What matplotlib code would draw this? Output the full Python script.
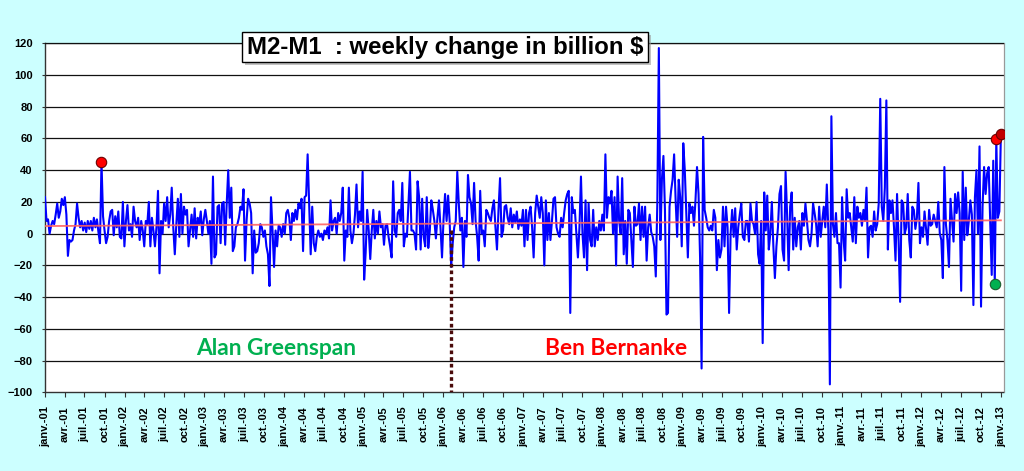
import numpy as np
import pandas as pd
import matplotlib
matplotlib.use("Agg")
import matplotlib.pyplot as plt
import matplotlib.dates as mdates
from matplotlib.patches import Rectangle

# ---- data: weekly change of M2-M1 (billion $), one list per year (Mondays) ----
w2001 = [23, 8, 9, 0, 5, 8, 6, 12, 19, 10, 14, 22, 18, 23, 12, -14, -4, -5, -4, 2,
         6, 19, 10, 4, 8, 2, 7, 1, 8, 3, 8, 2, 10, 4, 9, 1, -6, 45, 11, 2,
         -6, -2, 8, 14, 15, -1, 11, 4, 14, -2, -3, 20, -8]
w2002 = [8, 18, 2, 6, -2, 17, 8, 4, 10, -4, 8, 2, -8, 8, 6, 20, -8, 10, 2, -8,
         4, 27, -25, 8, 0, 19, 8, 23, 4, 12, 29, 4, -13, 6, 22, -2, 25, 0, 17, 12,
         15, -8, 2, 12, -2, 16, -3, 10, 6, 14, -1, 9]
w2003 = [15, 8, 0, 8, -19, 36, -15, -13, 17, 18, -6, 19, 20, -7, 19, 40, 10, 29, -11, -8,
         4, 6, 10, 17, 15, 28, -17, 8, 22, 19, 13, -25, 2, -12, -11, -6, 6, 4, -2, 2,
         -8, -13, -33, 23, 2, -21, 2, -8, 5, 4, -2, 6]
w2004 = [0, 13, 15, 10, -4, 13, 8, 15, 9, 19, 16, 22, -11, 23, 24, 50, 19, -13, 17, -6,
         -11, -2, 2, -2, 0, -4, 2, 0, 4, -3, 21, 2, 8, 10, 0, 13, 8, 13, 29, -17,
         2, -2, 29, 2, -6, 0, 12, 31, 4, 14, 8, 39]
w2005 = [-29, -12, 15, 2, -16, 2, 15, -3, 8, 0, 14, 4, 6, -7, 5, 6, -2, -8, -15, 33,
         2, -2, 13, 15, 8, 32, -8, 0, -2, 19, 39, 2, 2, 0, -10, 33, 23, -10, 22, -2,
         -8, 23, -9, 2, 21, 15, 8, -3, 10, 21, 4, -15]
w2006 = [9, 25, 8, 24, 8, -21, -6, 4, 8, 39, 19, 2, 10, -21, 8, -2, 37, 23, 19, 6,
         32, 8, -2, -17, 27, 0, 2, -8, 15, 13, 10, 8, 16, 21, 4, -10, 15, 35, -2, 2,
         17, 18, 10, 6, 16, 4, 12, 7, 14, 3, 9, 5]
w2007 = [15, -8, 15, -4, 13, 17, 4, -15, 13, 24, 17, 10, 23, 13, -20, 21, -4, 13, -4, 8,
         22, 23, 4, 0, -2, 10, 4, 13, 21, 25, 27, -50, 23, 13, 15, 0, -15, 4, 36, 0,
         -15, 21, -23, 19, -4, -8, 15, -8, 4, -4, 8, 2, 12]
w2008 = [2, 50, 10, 23, 19, 27, 0, 23, -20, 36, 8, 0, 35, -13, 8, -19, 15, 13, -4, -21,
         17, 5, 6, 19, -4, 17, -2, 17, -17, 4, 12, 1, -2, -8, -27, 19, 117, -4, 34, 49,
         15, -51, -50, 17, 27, 34, 50, 21, -2, 34, 23, -8]
w2009 = [57, 40, 12, -15, 19, 13, 17, 5, 21, 42, 25, -15, -85, 61, 15, 10, 4, 2, 5, 2,
         15, 10, -23, -4, -15, -10, 17, -8, 17, 4, -50, 0, 15, -2, 16, -10, 4, 12, 19, -2,
         -4, 8, 8, -5, 19, 8, 6, 0, 20, -13, -19, 8]
w2010 = [-69, 26, 2, 24, -10, 0, 20, -8, -28, -8, 4, 25, 30, -10, -17, 39, 12, -23, 17, 26,
         -10, 10, -8, 4, 8, -10, 13, 5, 19, 8, -4, -8, 0, 19, 13, 6, -8, 17, -2, 8,
         17, 4, 31, 2, -95, 74, 6, -2, 13, -6, -6, -34]
w2011 = [23, -4, -17, 28, 10, 13, 4, -5, 23, -6, 17, 10, 13, 5, 15, 8, 29, -15, 4, 5,
         -2, 14, 2, 6, 19, 85, 17, 8, 29, 84, -10, 21, 13, 21, 4, -17, 25, -4, -43, 21,
         19, 0, 4, 25, -4, -15, 17, 15, 3, 10, 32, -6]
w2012 = [4, -2, 14, 3, -7, 15, 5, 6, 12, 8, 4, 20, 0, -4, -28, 42, 6, -4, -21, 22,
         8, -5, 25, 13, 26, 13, -36, 39, -4, 29, -1, 8, 21, 12, -45, 23, 40, 0, 55, -46,
         17, 42, 25, 38, 42, 8, -26, 46, -32, 59.5, 10, 14, 62.8]

trend_values = [4.8, 8.4]          # linear trend, first and last week
hl_dates = ["2001-09-17", "2012-12-03", "2012-12-10", "2012-12-31"]
hl_colors = ["#FF0000", "#00B050", "#FF0000", "#C00000"]
handover_date = "2006-02-06"
handover_top = 2
labels = ["Alan Greenspan", "Ben Bernanke"]
title = "M2-M1  : weekly change in billion $"
month_fr = {1: "janv.", 4: "avr.", 7: "juil.", 10: "oct."}

values = np.array(w2001 + w2002 + w2003 + w2004 + w2005 + w2006 +
                  w2007 + w2008 + w2009 + w2010 + w2011 + w2012, dtype=float)
dates = pd.date_range("2001-01-01", periods=len(values), freq="7D")
series = pd.Series(values, index=dates)

# ---- figure ----
W, H = 1024, 471
fig = plt.figure(figsize=(W / 100, H / 100), dpi=100, facecolor="#CCFFFF")
ax = fig.add_axes([45 / W, 1 - 392.3 / H, 958.5 / W, 349 / H])
ax.set_facecolor("white")

ax.set_ylim(-100, 120)
ax.set_yticks(np.arange(-100, 121, 20))
ax.set_xlim(pd.Timestamp("2001-01-01"), pd.Timestamp("2013-01-12"))

for v in np.arange(-80, 121, 20):
    ax.axhline(v, color="#111111", lw=0.9, zorder=1)

ax.plot(series.index, series.values, color="#0000FF", lw=1.5, zorder=3)
ax.plot([dates[0], dates[-1]], trend_values, color="#FF6060", lw=1.3, alpha=0.9, zorder=4)

for d, c in zip(hl_dates, hl_colors):
    t = pd.Timestamp(d)
    edge = "#1a5c2e" if c == "#00B050" else "#6b0000"
    ax.plot([t], [series[t]], marker="o", ms=7.5, color=c, mec=edge, mew=0.8, zorder=5)

hd = pd.Timestamp(handover_date)
ax.plot([hd, hd], [handover_top, -100], color="#4a0a0a", lw=2.4,
        linestyle=(0, (1.1, 0.9)), dash_capstyle="butt", zorder=4)

ax.text(0.241, 0.107, labels[0], transform=ax.transAxes, ha="center", va="baseline",
        fontsize=16.4, fontweight="bold", color="#00B050", family="Lato", zorder=6)
ax.text(0.5957, 0.107, labels[1], transform=ax.transAxes, ha="center", va="baseline",
        fontsize=16.4, fontweight="bold", color="#FF0000", family="Lato", zorder=6)

# x ticks every quarter with French month abbreviations
ticks = pd.date_range("2001-01-01", "2013-01-01", freq="QS")
ax.set_xticks(ticks)
ax.set_xticklabels([f"{month_fr[t.month]}-{t.year % 100:02d}" for t in ticks],
                   rotation=90, fontsize=8, fontweight="bold", family="Liberation Sans")
ax.tick_params(axis="x", direction="out", length=3.5, width=0.8, pad=6.5, color="#333333")
ax.tick_params(axis="y", direction="out", length=2.5, width=0.8, pad=6.3, color="#333333")
for lab in ax.get_yticklabels():
    lab.set_fontsize(8)
    lab.set_fontweight("bold")
    lab.set_family("Liberation Sans")

for s in ["left", "bottom"]:
    ax.spines[s].set_color("#333333")
    ax.spines[s].set_linewidth(1.0)
ax.spines["top"].set_color("#111111")
ax.spines["top"].set_linewidth(0.9)
ax.spines["right"].set_color("#999999")
ax.spines["right"].set_linewidth(0.9)

# title box with shadow
bx, by, bw, bh = 242, 31.7, 406, 30
fig.patches.append(Rectangle(((bx + 3) / W, 1 - (by + bh + 3) / H), bw / W, bh / H,
                             transform=fig.transFigure, facecolor="#9a9a9a",
                             edgecolor="none", alpha=0.6, zorder=9))
fig.patches.append(Rectangle((bx / W, 1 - (by + bh) / H), bw / W, bh / H,
                             transform=fig.transFigure, facecolor="white",
                             edgecolor="black", lw=1.0, zorder=10))
fig.text((bx + bw / 2) / W, 1 - (by + bh / 2 + 1) / H, title, ha="center", va="center",
         fontsize=17.3, fontweight="bold", family="Liberation Sans", zorder=11)

fig.savefig("out.png", dpi=100, facecolor=fig.get_facecolor())
